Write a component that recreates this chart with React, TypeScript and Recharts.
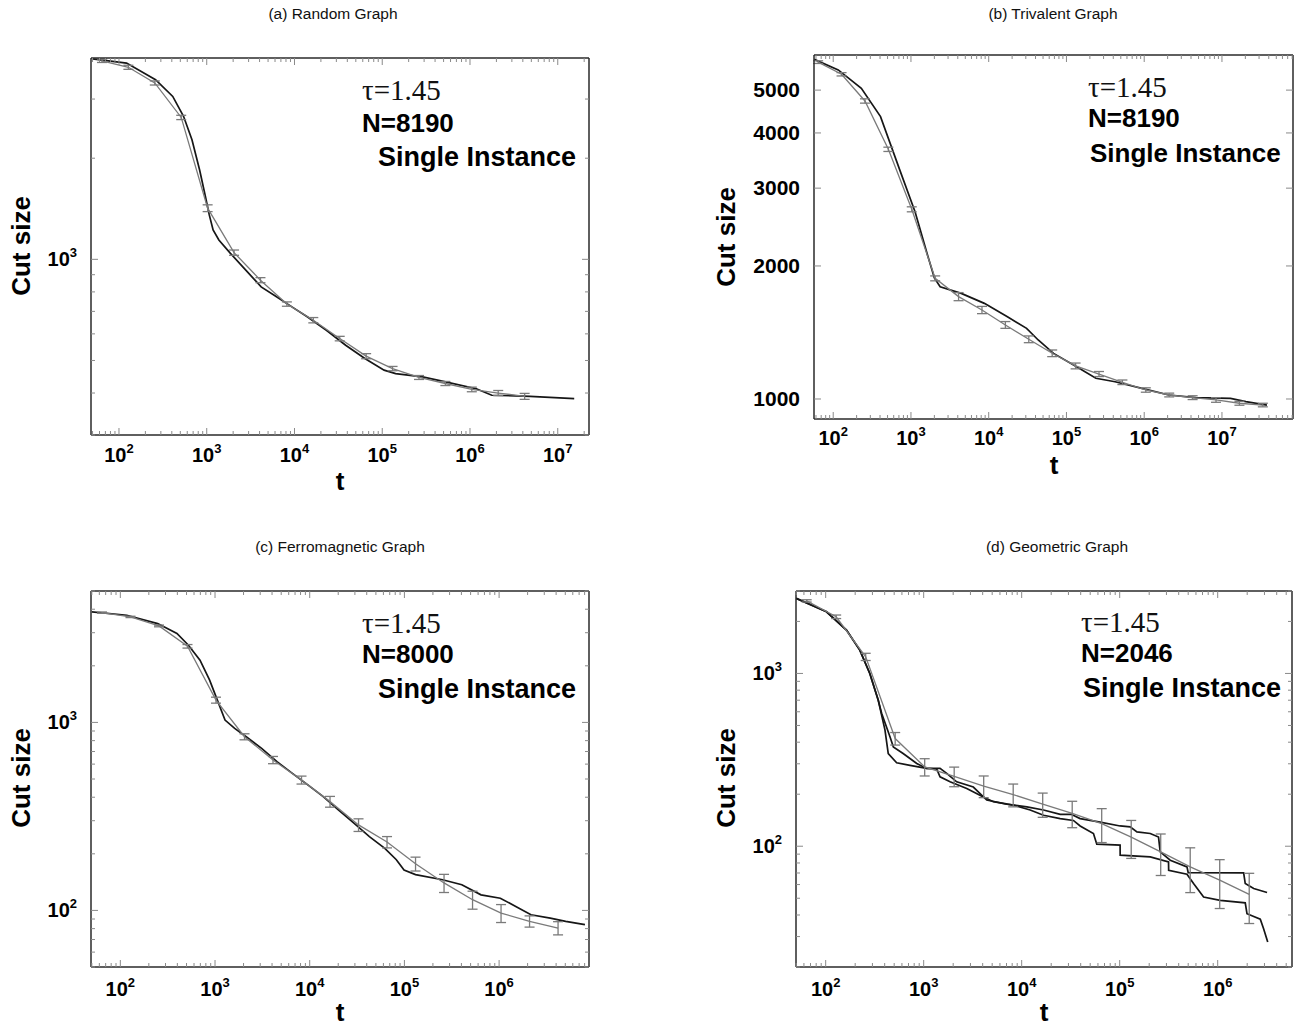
import React from 'react';
import { LineChart, Line, XAxis, YAxis, ErrorBar } from 'recharts';

// t = 2^k sampling of the averaged runs
const gridT = [64, 128, 256, 512, 1024, 2048, 4096, 8192, 16384, 32768, 65536, 131072, 262144, 524288, 1048576, 2097152, 4194304, 8388608, 16777216, 33554432];

// (a) Random graph
const aGrayCut = [3900, 3730, 3350, 2645, 1420, 1047, 867, 736, 659, 581, 515, 473, 445, 427, 410, 400, 391];
const aGrayErr = [45, 52, 47, 39, 33, 19, 15, 11, 12, 9, 9, 7, 6, 6, 6.5, 7, 8];
const aBlackT = [50, 122, 261, 410, 544, 679, 830, 966, 1069, 1182, 1375, 1862, 2786, 4170, 6240, 9340, 13970, 23100, 38300, 63400, 105000, 142000, 288000, 527000, 1180000, 1770000, 4840000, 15400000];
const aBlackCut = [3950, 3840, 3427, 3055, 2665, 2270, 1845, 1538, 1356, 1223, 1142, 1042, 929, 828, 774, 722, 675, 615, 555, 507, 468, 457, 447, 432, 412, 394, 391, 385];

// (b) Trivalent graph
const bGrayCut = [5785, 5430, 4725, 3673, 2687, 1875, 1705, 1590, 1471, 1365, 1269, 1188, 1139, 1091, 1048, 1021, 1007, 995, 978, 969];
const bGrayErr = [40, 47, 53, 41, 35, 24, 36, 30, 26, 24, 22, 18, 15, 13, 12, 10, 10, 12, 10, 9];
const bBlackT = [57, 116, 230, 406, 717, 1131, 1591, 2000, 2374, 4436, 8790, 17400, 30700, 43300, 68200, 135000, 239000, 422000, 935000, 2080000, 4610000, 12900000, 20300000, 37900000];
const bBlackCut = [5870, 5555, 5047, 4355, 3300, 2650, 2150, 1880, 1795, 1734, 1646, 1535, 1445, 1360, 1268, 1183, 1114, 1094, 1057, 1021, 1007, 1003, 986, 969];

// (c) Ferromagnetic graph
const cGrayCut = [3837, 3640, 3260, 2540, 1314, 839, 631, 494, 379, 285, 231, 177, 140, 114, 96.8, 87.5, 80.6];
const cGrayErr = [30, 30, 35, 55, 48, 31, 28, 24, 25, 22, 16, 15, 15.5, 12.5, 10.6, 6, 6.5];
const cBlackT = [50, 117, 248, 396, 524, 694, 877, 1058, 1275, 1612, 2134, 3104, 4510, 6560, 9550, 13900, 20200, 29300, 42700, 62100, 82200, 99100, 131000, 253000, 404000, 644000, 1030000, 1500000, 2170000, 3470000, 5050000, 8060000];
const cBlackCut = [3870, 3715, 3355, 2970, 2574, 2143, 1678, 1314, 1029, 929, 839, 728, 618, 536, 465, 403, 342, 291, 247, 214, 186, 164, 155, 145.5, 137, 121, 116, 105, 94.8, 91, 87.5, 84];

// (d) Geometric graph (two single runs)
const dGrayCut = [2630, 2128, 1248, 420, 288, 254, 223, 199, 175, 155, 135, 113, 92.7, 75.9, 63.6, 52.7];
const dGrayErr = [40, 50, 60, 35, 33, 33, 32, 30, 28, 27, 30, 28, 25, 22, 20, 17];
const dBlack1T = [50, 102, 163, 223, 282, 344, 403, 435, 530, 725, 1072, 1358, 1469, 1858, 2750, 4065, 5140, 8230, 12200, 16700, 24700, 33700, 39500, 54000, 58400, 101000, 101100, 205000, 315000, 316000, 486000, 567000, 718000, 1060000, 1910000, 1990000, 2720000, 2940000, 3240000];
const dBlack1Cut = [2720, 2275, 1782, 1365, 1000, 700, 470, 344, 304, 294, 282, 280, 252, 236, 216, 193, 181, 173, 162, 151, 144.5, 141, 131, 118.5, 102.8, 101.4, 88.8, 86.8, 81.1, 72.6, 68.9, 60.8, 50.8, 48.6, 47, 40.7, 37.8, 33.3, 27.9];
const dBlack2T = [50, 102, 163, 223, 282, 344, 373, 453, 490, 617, 850, 1072, 1469, 1718, 2173, 3210, 4400, 7050, 11300, 16700, 24700, 32000, 39500, 63100, 101000, 128000, 150000, 205000, 249000, 259000, 328000, 486000, 500000, 1840000, 1910000, 2330000, 3190000];
const dBlack2Cut = [2720, 2275, 1782, 1365, 1000, 700, 586, 430, 376, 344, 301, 282, 282, 264, 236, 220, 185, 175, 169, 162, 153, 153, 144.5, 138, 131, 129.5, 121, 118.5, 113, 92.7, 83, 75.9, 70.4, 70.2, 60.8, 56.9, 54];

// axis tick labels
const aXExp = [2, 3, 4, 5, 6, 7];
const bXExp = [2, 3, 4, 5, 6, 7];
const cXExp = [2, 3, 4, 5, 6];
const dXExp = [2, 3, 4, 5, 6];
const aYExp = [3];
const bYVals = [1000, 2000, 3000, 4000, 5000];
const cYExp = [2, 3];
const dYExp = [2, 3];

const titles = ['(a) Random Graph', '(b) Trivalent Graph', '(c) Ferromagnetic Graph', '(d) Geometric Graph'];
const nLabels = ['N=8190', 'N=8190', 'N=8000', 'N=2046'];

const SANS = '"Liberation Sans", Arial, Helvetica, sans-serif';
const SERIF = '"Liberation Serif", "Times New Roman", serif';
const BLACK = '#161616';
const GRAY = '#7a7a7a';
const BOX = '#2a2a2a';
const TICK = '#8a8a8a';

const zip = (t: number[], cut: number[], err?: number[]) =>
  t.map((v, i) => ({ t: v, cut: cut[i], e: err ? err[i] : undefined }));

// all 1..9 x 10^k values inside the domain
const logTicks = (lo: number, hi: number) => {
  const out: number[] = [];
  for (let k = -1; k <= 9; k++) {
    for (let m = 1; m <= 9; m++) {
      const v = m * Math.pow(10, k);
      if (v >= lo && v <= hi) out.push(v);
    }
  }
  return out;
};

const near = (a: number, b: number) => Math.abs(a - b) / b < 1e-6;

type Lbl = { value: number; exp?: number; text?: string };

const LabelText = ({ x, y, lbl, anchor }: { x: number; y: number; lbl: Lbl; anchor: string }) => (
  <text x={x} y={y} textAnchor={anchor} fontFamily={SANS} fontWeight="bold" fontSize={lbl.exp !== undefined ? 20 : 21} fill="#000">
    {lbl.exp !== undefined ? (
      <>
        10<tspan dy={-9} fontSize={13}>{lbl.exp}</tspan>
      </>
    ) : (
      lbl.text
    )}
  </text>
);

const findLbl = (labels: Lbl[], v: number) => labels.find((l) => near(v, l.value));

// ticks point inwards; the axes have zero tick size so (x, y) sits on the box edge
const BottomTick = (p: any) => {
  const lbl = findLbl(p.labels, p.payload.value);
  return (
    <g>
      <line x1={p.x} x2={p.x} y1={p.y} y2={p.y - (lbl ? 7 : 4)} stroke={TICK} />
      {lbl && <LabelText x={p.x} y={p.y + p.gap} lbl={lbl} anchor="middle" />}
    </g>
  );
};
const TopTick = (p: any) => {
  const major = p.labels.some((l: Lbl) => near(p.payload.value, l.value));
  return <line x1={p.x} x2={p.x} y1={p.y} y2={p.y + (major ? 7 : 4)} stroke={TICK} />;
};
const LeftTick = (p: any) => {
  const lbl = findLbl(p.labels, p.payload.value);
  return (
    <g>
      <line x1={p.x} x2={p.x + (lbl ? 7 : 4)} y1={p.y} y2={p.y} stroke={TICK} />
      {lbl && <LabelText x={p.x - 14} y={p.y + 7} lbl={lbl} anchor="end" />}
    </g>
  );
};
const RightTick = (p: any) => {
  const major = p.labels.some((l: Lbl) => near(p.payload.value, l.value));
  return <line x1={p.x} x2={p.x - (major ? 7 : 4)} y1={p.y} y2={p.y} stroke={TICK} />;
};

type PanelCfg = {
  q: [number, number, number, number];
  box: { left: number; top: number; right: number; bottom: number };
  xDomain: [number, number];
  yDomain: [number, number];
  xLabels: Lbl[];
  yLabels: Lbl[];
  yMinor: boolean;
  gap: number;
  gray: { t: number; cut: number; e?: number }[];
  black: { t: number; cut: number; e?: number }[][];
};

const expLabels = (exps: number[]) => exps.map((e) => ({ value: Math.pow(10, e), exp: e }));

const panels: PanelCfg[] = [
  {
    q: [0, 0, 650, 515],
    box: { left: 91, top: 58, right: 589, bottom: 435 },
    xDomain: [48, 2.27e7],
    yDomain: [300, 3975],
    xLabels: expLabels(aXExp),
    yLabels: expLabels(aYExp),
    yMinor: true,
    gap: 27,
    gray: zip(gridT.slice(0, aGrayCut.length), aGrayCut, aGrayErr),
    black: [zip(aBlackT, aBlackCut)],
  },
  {
    q: [650, 0, 651, 515],
    box: { left: 814, top: 55, right: 1293, bottom: 419 },
    xDomain: [56.6, 8.2e7],
    yDomain: [901, 6004],
    xLabels: expLabels(bXExp),
    yLabels: bYVals.map((v) => ({ value: v, text: String(v) })),
    yMinor: false,
    gap: 26,
    gray: zip(gridT.slice(0, bGrayCut.length), bGrayCut, bGrayErr),
    black: [zip(bBlackT, bBlackCut)],
  },
  {
    q: [0, 515, 650, 515],
    box: { left: 91, top: 591, right: 589, bottom: 967 },
    xDomain: [49, 8.9e6],
    yDomain: [50, 5000],
    xLabels: expLabels(cXExp),
    yLabels: expLabels(cYExp),
    yMinor: true,
    gap: 29,
    gray: zip(gridT.slice(0, cGrayCut.length), cGrayCut, cGrayErr),
    black: [zip(cBlackT, cBlackCut)],
  },
  {
    q: [650, 515, 651, 515],
    box: { left: 796, top: 591, right: 1292, bottom: 967 },
    xDomain: [49.8, 5.73e6],
    yDomain: [20, 3000],
    xLabels: expLabels(dXExp),
    yLabels: expLabels(dYExp),
    yMinor: true,
    gap: 29,
    gray: zip(gridT.slice(0, dGrayCut.length), dGrayCut, dGrayErr),
    black: [zip(dBlack1T, dBlack1Cut), zip(dBlack2T, dBlack2Cut)],
  },
];

// page-coordinate text placement per panel
const textPos = [
  { title: [333, 19], tau: [362, 100], n: [362, 132], single: [378, 166], singleSize: 27, ylab: [21, 246], t: [340, 490] },
  { title: [1053, 19], tau: [1088, 97], n: [1088, 127], single: [1090, 162], singleSize: 26, ylab: [726, 237], t: [1054, 474] },
  { title: [340, 552], tau: [362, 633], n: [362, 663], single: [378, 698], singleSize: 27, ylab: [21, 778], t: [340, 1021] },
  { title: [1057, 552], tau: [1081, 632], n: [1081, 662], single: [1083, 697], singleSize: 27, ylab: [726, 778], t: [1044, 1021] },
];

function Panel({ cfg }: { cfg: PanelCfg }) {
  const [qx, qy, qw, qh] = cfg.q;
  const { box } = cfg;
  // each axis is 1px thick (recharts skips 0-size axes)
  const margin = {
    top: box.top - qy - 1,
    left: box.left - qx - 1,
    right: qx + qw - box.right - 1,
    bottom: qy + qh - box.bottom - 1,
  };
  const xTicks = logTicks(cfg.xDomain[0], cfg.xDomain[1]);
  const yTicks = cfg.yMinor ? logTicks(cfg.yDomain[0], cfg.yDomain[1]) : cfg.yLabels.map((l) => l.value);
  const axisLine = { stroke: BOX, strokeWidth: 1.5 };
  const common = { type: 'number' as const, scale: 'log' as const, allowDataOverflow: true, interval: 0 as const, tickSize: 0, tickMargin: 0, tickLine: false };

  return (
    <div style={{ position: 'absolute', left: qx, top: qy, width: qw, height: qh }}>
      <LineChart width={qw} height={qh} margin={margin}>
        <XAxis xAxisId="b" dataKey="t" orientation="bottom" domain={cfg.xDomain} ticks={xTicks} height={1} axisLine={axisLine}
          tick={(p: any) => <BottomTick {...p} labels={cfg.xLabels} gap={cfg.gap} />} {...common} />
        <XAxis xAxisId="top" dataKey="t" orientation="top" domain={cfg.xDomain} ticks={xTicks} height={1} axisLine={axisLine}
          tick={(p: any) => <TopTick {...p} labels={cfg.xLabels} />} {...common} />
        <YAxis yAxisId="l" orientation="left" domain={cfg.yDomain} ticks={yTicks} width={1} axisLine={axisLine}
          tick={(p: any) => <LeftTick {...p} labels={cfg.yLabels} />} {...common} />
        <YAxis yAxisId="r" orientation="right" domain={cfg.yDomain} ticks={yTicks} width={1} axisLine={axisLine}
          tick={(p: any) => <RightTick {...p} labels={cfg.yLabels} />} {...common} />
        {cfg.black.map((pts, i) => (
          <Line key={i} xAxisId="b" yAxisId="l" data={pts} dataKey="cut" type="linear" stroke={BLACK} strokeWidth={1.7}
            dot={false} activeDot={false} isAnimationActive={false} />
        ))}
        <Line xAxisId="b" yAxisId="l" data={cfg.gray} dataKey="cut" type="linear" stroke={GRAY} strokeWidth={1.3}
          dot={false} activeDot={false} isAnimationActive={false}>
          <ErrorBar dataKey="e" direction="y" width={5} stroke={GRAY} strokeWidth={1.3} isAnimationActive={false} />
        </Line>
      </LineChart>
    </div>
  );
}

export default function App() {
  return (
    <div style={{ position: 'absolute', left: 0, top: 0, width: 1301, height: 1030, background: '#fff', overflow: 'hidden' }}>
      {panels.map((cfg, i) => (
        <Panel key={i} cfg={cfg} />
      ))}
      <svg width={1301} height={1030} style={{ position: 'absolute', left: 0, top: 0, pointerEvents: 'none' }}>
        {textPos.map((tp, i) => (
          <g key={i}>
            <text x={tp.title[0]} y={tp.title[1]} textAnchor="middle" fontFamily={SANS} fontSize={15.5} fill="#111">{titles[i]}</text>
            <text x={tp.tau[0]} y={tp.tau[1]} fontFamily={SERIF} fontSize={29} fill="#111">τ=1.45</text>
            <text x={tp.n[0]} y={tp.n[1]} fontFamily={SANS} fontWeight="bold" fontSize={26} fill="#000">{nLabels[i]}</text>
            <text x={tp.single[0]} y={tp.single[1]} fontFamily={SANS} fontWeight="bold" fontSize={tp.singleSize} fill="#000">Single Instance</text>
            <text transform={`translate(${tp.ylab[0]},${tp.ylab[1]}) rotate(-90)`} textAnchor="middle" dy="0.35em"
              fontFamily={SANS} fontWeight="bold" fontSize={26} fill="#000">Cut size</text>
            <text x={tp.t[0]} y={tp.t[1]} textAnchor="middle" fontFamily={SANS} fontWeight="bold" fontSize={26} fill="#000">t</text>
          </g>
        ))}
      </svg>
    </div>
  );
}
